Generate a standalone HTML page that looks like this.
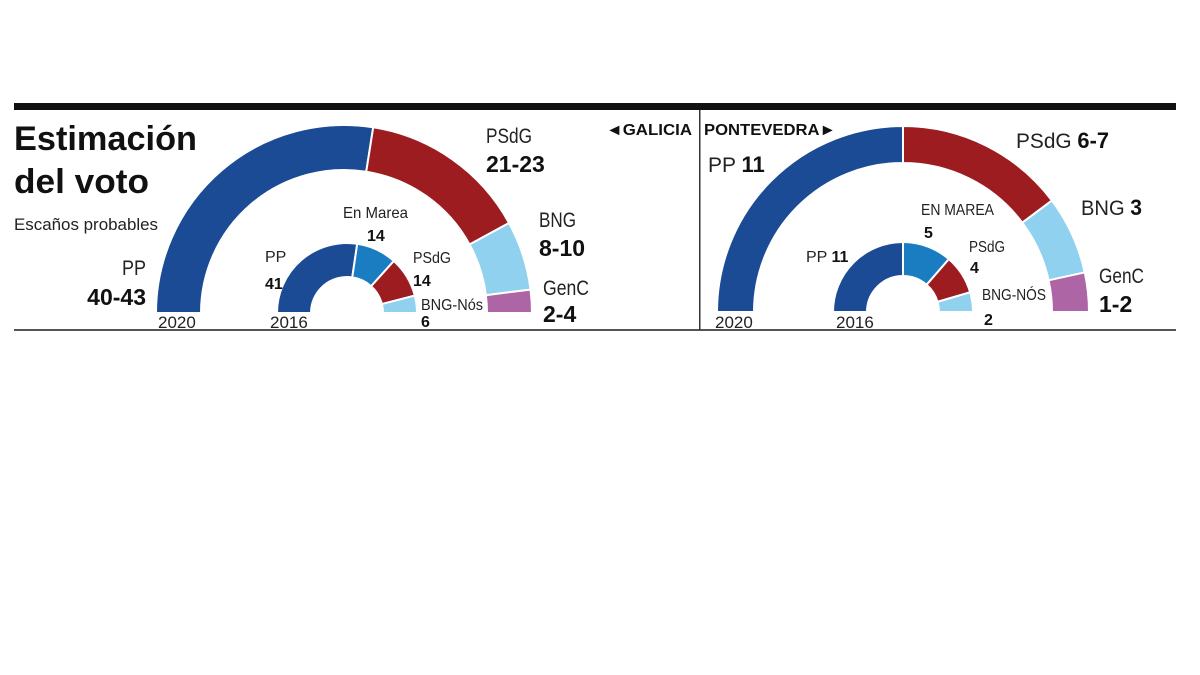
<!DOCTYPE html>
<html><head><meta charset="utf-8"><style>
html,body{margin:0;padding:0;background:#fff;}
svg{display:block;font-family:"Liberation Sans",sans-serif;}
.r{font-weight:normal;fill:#222}
.b{font-weight:bold;fill:#111}
</style></head><body>
<svg id="s" width="1200" height="675" viewBox="0 0 1200 675" xmlns="http://www.w3.org/2000/svg">
<rect width="1200" height="675" fill="#fff"/>
<rect x="14" y="103" width="1162" height="7" fill="#111"/>
<rect x="14" y="329" width="1162" height="2" fill="#555"/>
<rect x="699" y="110" width="1.5" height="220" fill="#333"/>
<g id="arcs" stroke="#fff" stroke-width="2"></g>
<g>
<text x="14" y="150" class="b" font-size="34" textLength="183" lengthAdjust="spacingAndGlyphs">Estimación</text>
<text x="14" y="193" class="b" font-size="34" textLength="135" lengthAdjust="spacingAndGlyphs">del voto</text>
<text x="14" y="230" class="r" font-size="17" textLength="144" lengthAdjust="spacingAndGlyphs">Escaños probables</text>
<text x="122" y="275" class="r" font-size="21" textLength="24" lengthAdjust="spacingAndGlyphs">PP</text>
<text x="146" y="305" class="b" font-size="23" text-anchor="end">40-43</text>
<text x="158" y="328" class="r" font-size="17" fill="#333">2020</text>
<text x="486" y="143" class="r" font-size="21" textLength="46" lengthAdjust="spacingAndGlyphs">PSdG</text>
<text x="486" y="172" class="b" font-size="23">21-23</text>
<text x="539" y="227" class="r" font-size="21" textLength="37" lengthAdjust="spacingAndGlyphs">BNG</text>
<text x="539" y="256" class="b" font-size="23">8-10</text>
<text x="543" y="295" class="r" font-size="21" textLength="46" lengthAdjust="spacingAndGlyphs">GenC</text>
<text x="543" y="322" class="b" font-size="23">2-4</text>
<text x="343" y="218" class="r" font-size="16" textLength="65" lengthAdjust="spacingAndGlyphs">En Marea</text>
<text x="367" y="241" class="b" font-size="16">14</text>
<text x="265" y="262" class="r" font-size="16">PP</text>
<text x="265" y="289" class="b" font-size="16">41</text>
<text x="413" y="263" class="r" font-size="16" textLength="38" lengthAdjust="spacingAndGlyphs">PSdG</text>
<text x="413" y="286" class="b" font-size="16">14</text>
<text x="421" y="310" class="r" font-size="16" textLength="62" lengthAdjust="spacingAndGlyphs">BNG-Nós</text>
<text x="421" y="327" class="b" font-size="16">6</text>
<text x="270" y="328" class="r" font-size="17" fill="#333">2016</text>

<text x="606" y="135" class="b" font-size="16" textLength="86" lengthAdjust="spacingAndGlyphs">◄GALICIA</text>
<text x="704" y="135" class="b" font-size="16" textLength="132" lengthAdjust="spacingAndGlyphs">PONTEVEDRA►</text>
<text x="708" y="172" class="r" font-size="21">PP <tspan class="b" font-size="22">11</tspan></text>
<text x="1016" y="148" class="r" font-size="21" textLength="93" lengthAdjust="spacingAndGlyphs">PSdG <tspan class="b" font-size="22">6-7</tspan></text>
<text x="1081" y="215" class="r" font-size="21" textLength="61" lengthAdjust="spacingAndGlyphs">BNG <tspan class="b" font-size="22">3</tspan></text>
<text x="1099" y="283" class="r" font-size="21" textLength="45" lengthAdjust="spacingAndGlyphs">GenC</text>
<text x="1099" y="312" class="b" font-size="23">1-2</text>
<text x="921" y="215" class="r" font-size="16" textLength="73" lengthAdjust="spacingAndGlyphs">EN MAREA</text>
<text x="924" y="238" class="b" font-size="16">5</text>
<text x="806" y="262" class="r" font-size="16">PP <tspan class="b">11</tspan></text>
<text x="969" y="252" class="r" font-size="16" textLength="36" lengthAdjust="spacingAndGlyphs">PSdG</text>
<text x="970" y="273" class="b" font-size="16">4</text>
<text x="982" y="300" class="r" font-size="16" textLength="64" lengthAdjust="spacingAndGlyphs">BNG-NÓS</text>
<text x="984" y="325" class="b" font-size="16">2</text>
<text x="715" y="328" class="r" font-size="17" fill="#333">2020</text>
<text x="836" y="328" class="r" font-size="17" fill="#333">2016</text>
</g>
<script>
(function(){
var C={pp:"#1b4b94",ps:"#9d1c20",bng:"#8fd1ef",gen:"#ad65a6",em:"#1a7dc1"};
var g=document.getElementById("arcs");
function ring(cx,cy,R,t,segs){
 var tot=segs.reduce(function(a,s){return a+s[0]},0),acc=0,r=R-t;
 segs.forEach(function(s){
  var a0=Math.PI*(1-acc/tot);acc+=s[0];var a1=Math.PI*(1-acc/tot);
  var p=function(rr,a){return (cx+rr*Math.cos(a)).toFixed(2)+" "+(cy-rr*Math.sin(a)).toFixed(2)};
  var d="M"+p(R,a0)+" A"+R+" "+R+" 0 0 1 "+p(R,a1)+" L"+p(r,a1)+" A"+r+" "+r+" 0 0 0 "+p(r,a0)+"Z";
  var e=document.createElementNS("http://www.w3.org/2000/svg","path");
  e.setAttribute("d",d);e.setAttribute("fill",s[1]);g.appendChild(e);
 });
}
ring(344,313,188,45,[[41.5,C.pp],[22,C.ps],[9,C.bng],[3,C.gen]]);
ring(347,313,70,34,[[41,C.pp],[14,C.em],[14,C.ps],[6,C.bng]]);
ring(903,312,186,37,[[11,C.pp],[6.5,C.ps],[3,C.bng],[1.5,C.gen]]);
ring(903,312,70,34,[[11,C.pp],[5,C.em],[4,C.ps],[2,C.bng]]);
})();
</script>
</svg>
</body></html>
